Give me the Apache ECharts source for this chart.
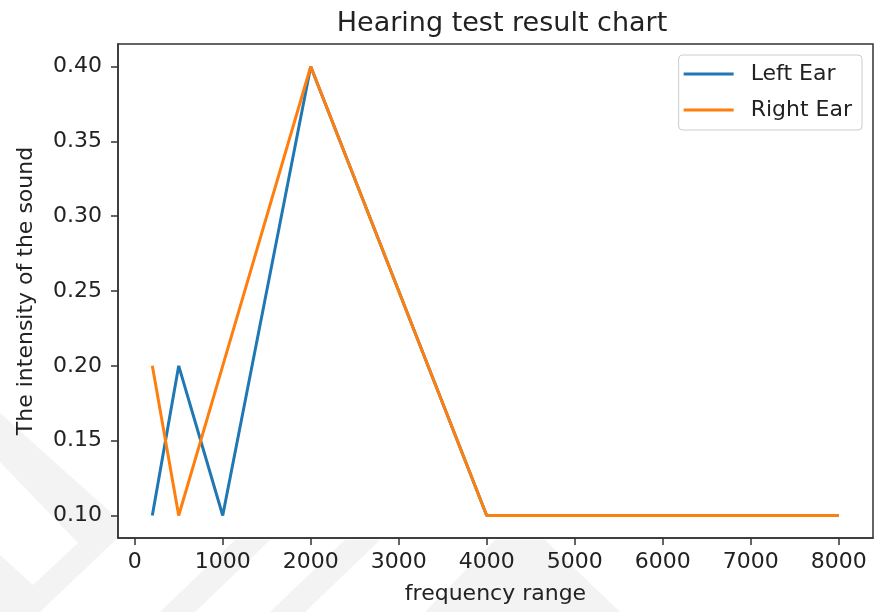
<!DOCTYPE html>
<html>
<head>
<meta charset="utf-8">
<script src="https://cdn.jsdelivr.net/npm/echarts@6/dist/echarts.min.js"></script>
<style>
html,body{margin:0;padding:0;background:#fff;}
#chart{width:874px;height:612px;}
</style>
</head>
<body>
<div id="chart"></div>
<script>
const frequencies = [200, 500, 1000, 2000, 4000, 8000];
const leftEar = [0.10, 0.20, 0.10, 0.40, 0.10, 0.10];
const rightEar = [0.20, 0.10, 0.20, 0.40, 0.10, 0.10];
const xTicks = [0, 1000, 2000, 3000, 4000, 5000, 6000, 7000, 8000];
const yTicks = [0.10, 0.15, 0.20, 0.25, 0.30, 0.35, 0.40];

const FONT = 'DejaVu Sans';
const TXT = '#222';
const FS = 22;
const chart = echarts.init(document.getElementById('chart'), null, {renderer: 'canvas'});

const wm = '#f3f3f3';
const option = {
  backgroundColor: '#fff',
  animation: false,
  graphic: [
    {type: 'polygon', z: -10, silent: true, shape: {points: [[0,413],[128,528],[40,612],[0,612]]}, style: {fill: wm}},
    {type: 'polygon', z: -9, silent: true, shape: {points: [[0,462],[78,543],[33,585],[0,555]]}, style: {fill: '#fff'}},
    {type: 'polygon', z: -10, silent: true, shape: {points: [[160,612],[235,540],[270,540],[195,612]]}, style: {fill: wm}},
    {type: 'polygon', z: -10, silent: true, shape: {points: [[270,612],[345,540],[380,540],[305,612]]}, style: {fill: wm}},
    {type: 'polygon', z: -10, silent: true, shape: {points: [[425,612],[495,540],[545,540],[620,612]]}, style: {fill: wm}}
  ],
  title: {
    text: 'Hearing test result chart',
    left: 497,
    textAlign: 'center',
    top: 5,
    textStyle: {fontFamily: FONT, fontSize: 27, fontWeight: 'normal', color: TXT}
  },
  legend: {
    orient: 'vertical',
    right: 12,
    top: 55,
    backgroundColor: '#fff',
    borderColor: '#cccccc',
    borderWidth: 1,
    borderRadius: 4,
    padding: [8, 10, 9, 5],
    itemWidth: 50,
    itemHeight: 3,
    itemGap: 14,
    icon: 'rect',
    textStyle: {fontFamily: FONT, fontSize: FS, lineHeight: 22, color: TXT, padding: [0, 0, 0, 12]},
    data: ['Left Ear', 'Right Ear']
  },
  grid: {
    left: 118, right: 1, top: 44, bottom: 74,
    show: true, backgroundColor: '#fff', borderColor: '#333', borderWidth: 1.5
  },
  xAxis: {
    type: 'value',
    min: -190,
    max: 8390,
    name: 'frequency range',
    nameLocation: 'middle',
    nameGap: 45,
    nameTextStyle: {fontFamily: FONT, fontSize: FS, color: TXT},
    splitLine: {show: false},
    axisLine: {show: true, onZero: false, lineStyle: {color: '#333', width: 1.5}},
    axisTick: {show: true, length: 7, customValues: xTicks, lineStyle: {color: '#333', width: 1.5}},
    axisLabel: {customValues: xTicks, margin: 13, fontFamily: FONT, fontSize: FS, color: TXT,
      formatter: v => String(Math.round(v))}
  },
  yAxis: {
    type: 'value',
    min: 0.085,
    max: 0.415,
    name: 'The intensity of the sound',
    nameLocation: 'middle',
    nameGap: 81,
    nameTextStyle: {fontFamily: FONT, fontSize: FS, color: TXT},
    splitLine: {show: false},
    axisLine: {show: true, onZero: false, lineStyle: {color: '#333', width: 1.5}},
    axisTick: {show: true, length: 7, customValues: yTicks, lineStyle: {color: '#333', width: 1.5}},
    axisLabel: {customValues: yTicks, margin: 16, fontFamily: FONT, fontSize: FS, color: TXT,
      formatter: v => v.toFixed(2)}
  },
  series: [
    {
      name: 'Left Ear', type: 'line', symbol: 'none', color: '#1f77b4',
      lineStyle: {width: 3, color: '#1f77b4'},
      data: frequencies.map((f, i) => [f, leftEar[i]])
    },
    {
      name: 'Right Ear', type: 'line', symbol: 'none', color: '#ff7f0e',
      lineStyle: {width: 3, color: '#ff7f0e'},
      data: frequencies.map((f, i) => [f, rightEar[i]])
    }
  ]
};
chart.setOption(option);
</script>
</body>
</html>
